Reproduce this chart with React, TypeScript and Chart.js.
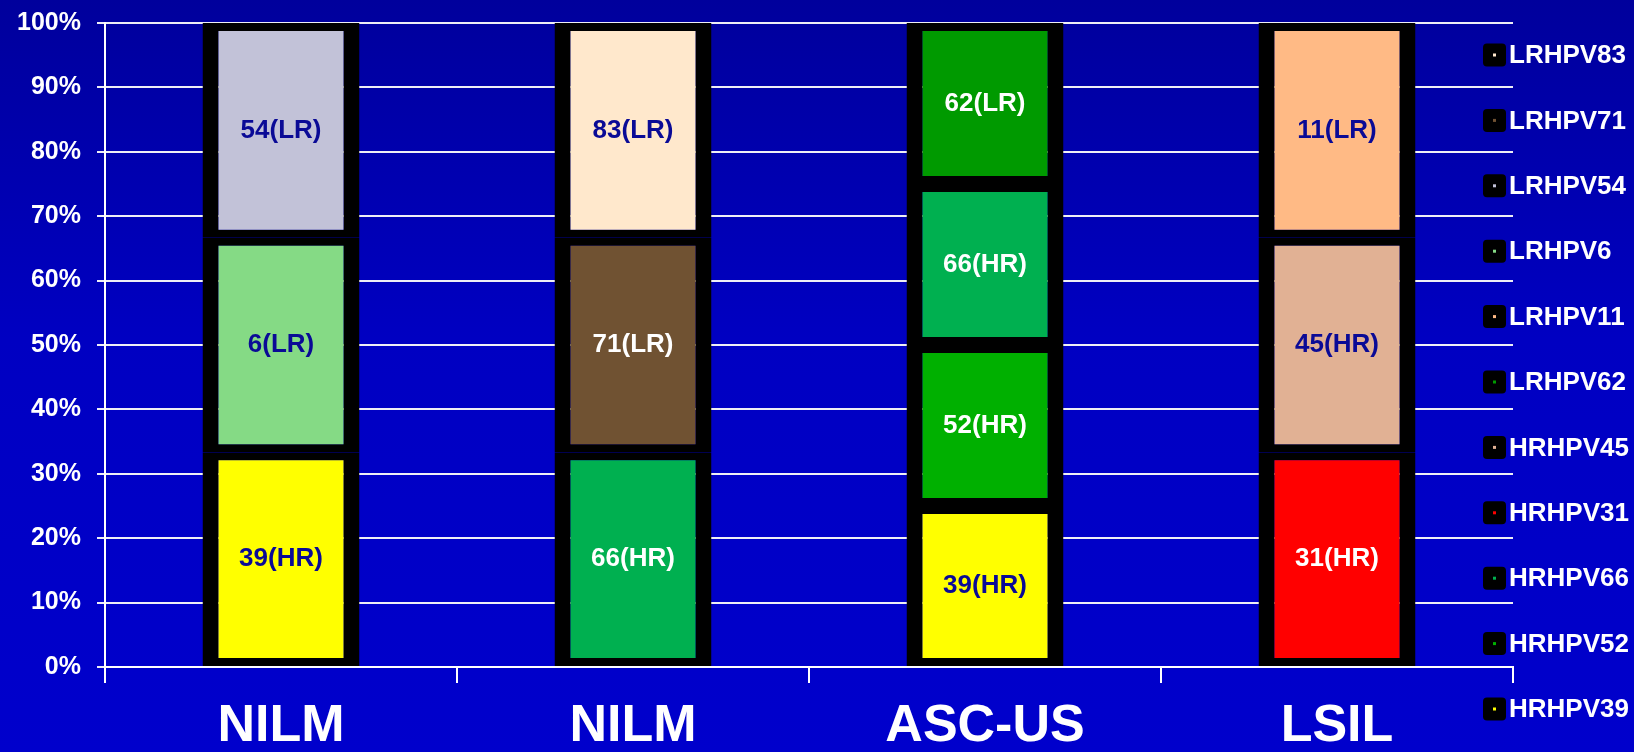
import React, { useEffect, useRef } from "react";
import { Chart, registerables } from "chart.js";

Chart.register(...registerables);

// Cytology groups along the x axis
const categories = ["NILM", "NILM", "ASC-US", "LSIL"];

// Genotypes found per sample (1 = detected), listed bottom of the stack first
const HRHPV39 = [1, 0, 1, 0];
const HRHPV52 = [0, 0, 1, 0];
const HRHPV66 = [0, 1, 1, 0];
const HRHPV31 = [0, 0, 0, 1];
const HRHPV45 = [0, 0, 0, 1];
const LRHPV62 = [0, 0, 1, 0];
const LRHPV11 = [0, 0, 0, 1];
const LRHPV6 = [1, 0, 0, 0];
const LRHPV54 = [1, 0, 0, 0];
const LRHPV71 = [0, 1, 0, 0];
const LRHPV83 = [0, 1, 0, 0];

const yTicks = [0, 10, 20, 30, 40, 50, 60, 70, 80, 90, 100];

const NAVY = "#0a0a96";
const WHITE = "#ffffff";

const series = [
  { name: "HRHPV39", counts: HRHPV39, fill: "#ffff00", text: NAVY },
  { name: "HRHPV52", counts: HRHPV52, fill: "#00b000", text: WHITE },
  { name: "HRHPV66", counts: HRHPV66, fill: "#00b050", text: WHITE },
  { name: "HRHPV31", counts: HRHPV31, fill: "#ff0000", text: WHITE },
  { name: "HRHPV45", counts: HRHPV45, fill: "#e1b194", text: NAVY },
  { name: "LRHPV62", counts: LRHPV62, fill: "#009a00", text: WHITE },
  { name: "LRHPV11", counts: LRHPV11, fill: "#ffba85", text: NAVY },
  { name: "LRHPV6", counts: LRHPV6, fill: "#85da85", text: NAVY },
  { name: "LRHPV54", counts: LRHPV54, fill: "#c2c2d8", text: NAVY },
  { name: "LRHPV71", counts: LRHPV71, fill: "#705232", text: WHITE },
  { name: "LRHPV83", counts: LRHPV83, fill: "#ffe8cc", text: NAVY },
];

const FONT = '"Liberation Sans", Arial, sans-serif';

// 100% stacked: each segment's share of its column total
const totals = categories.map((_, i) =>
  series.reduce((s, d) => s + d.counts[i], 0)
);

function segmentLabel(name: string): string {
  const risk = name.slice(0, 2);
  const type = name.slice(5);
  return `${type}(${risk})`;
}

const segmentLabels = {
  id: "segmentLabels",
  afterDatasetsDraw(chart: any) {
    const ctx = chart.ctx;
    ctx.save();
    ctx.font = `bold 26px ${FONT}`;
    ctx.textAlign = "center";
    ctx.textBaseline = "middle";
    chart.data.datasets.forEach((ds: any, di: number) => {
      const meta = chart.getDatasetMeta(di);
      meta.data.forEach((el: any, i: number) => {
        if (ds.data[i] == null) return;
        const { x, y, base } = el.getProps(["x", "y", "base"], true);
        ctx.fillStyle = ds.textColor;
        ctx.fillText(segmentLabel(ds.label), x, (y + base) / 2);
      });
    });
    ctx.restore();
  },
};

const sideLegend = {
  id: "sideLegend",
  afterDraw(chart: any) {
    const ctx = chart.ctx;
    const items = [...chart.data.datasets].reverse();
    const boxX = 1483;
    const box = 23;
    const firstY = 55;
    const step = 65.4;
    ctx.save();
    ctx.font = `bold 26px ${FONT}`;
    ctx.textAlign = "left";
    ctx.textBaseline = "middle";
    items.forEach((ds: any, k: number) => {
      const cy = firstY + k * step;
      ctx.fillStyle = "#000000";
      ctx.beginPath();
      ctx.roundRect(boxX, cy - box / 2, box, box, 4);
      ctx.fill();
      ctx.fillStyle = ds.backgroundColor;
      ctx.fillRect(boxX + box / 2 - 1.5, cy - 1.5, 3, 3);
      ctx.fillStyle = WHITE;
      ctx.fillText(ds.label, boxX + box + 3, cy + 1);
    });
    ctx.restore();
  },
};

export default function App() {
  const canvasRef = useRef<HTMLCanvasElement>(null);

  useEffect(() => {
    const canvas = canvasRef.current;
    if (!canvas) return;
    const chart = new Chart(canvas, {
      type: "bar",
      data: {
        labels: categories,
        datasets: series.map((s) => ({
          label: s.name,
          data: s.counts.map((c, i) => (c ? (c / totals[i]) * 100 : null)),
          backgroundColor: s.fill,
          borderColor: "#000000",
          borderWidth: { left: 16, right: 16, top: 8, bottom: 8 },
          borderSkipped: false,
          barPercentage: 0.446,
          categoryPercentage: 1,
          textColor: s.text,
        })) as any,
      },
      options: {
        responsive: false,
        animation: false,
        layout: { padding: { top: 23, right: 121, left: 0, bottom: 0 } },
        plugins: {
          legend: { display: false },
          tooltip: { enabled: false },
          title: { display: false },
        },
        scales: {
          x: {
            stacked: true,
            afterFit: (scale: any) => {
              scale.height = 85;
              scale.paddingLeft = 0;
              scale.paddingRight = 0;
            },
            grid: {
              display: true,
              offset: true,
              drawOnChartArea: false,
              drawTicks: true,
              tickLength: 16,
              color: "#ffffff",
              lineWidth: 2,
            },
            border: { display: true, color: "#ffffff", width: 2 },
            ticks: {
              color: "#ffffff",
              font: { family: FONT, size: 52, weight: "bold" },
              padding: 12,
              maxRotation: 0,
              autoSkip: false,
            },
          },
          y: {
            stacked: true,
            min: 0,
            max: 100,
            afterFit: (scale: any) => {
              scale.width = 105;
              scale.paddingTop = 0;
              scale.paddingBottom = 0;
            },
            afterBuildTicks: (scale: any) => {
              scale.ticks = yTicks.map((v) => ({ value: v }));
            },
            grid: {
              color: "#eeeef6",
              lineWidth: 2,
              tickLength: 8,
            },
            border: { display: true, color: "#ffffff", width: 2 },
            ticks: {
              color: "#ffffff",
              font: { family: FONT, size: 25, weight: "bold" },
              padding: 16,
              callback: (v: any) => `${v}%`,
            },
          },
        },
      },
      plugins: [segmentLabels, sideLegend],
    });
    return () => chart.destroy();
  }, []);

  return (
    <div
      style={{
        position: "fixed",
        left: 0,
        top: 0,
        width: 1634,
        height: 752,
        background:
          "linear-gradient(to bottom, #00009c 0%, #0000c2 45%, #0000cc 100%)",
      }}
    >
      <canvas
        ref={canvasRef}
        width={1634}
        height={752}
        style={{ display: "block", width: 1634, height: 752 }}
      />
    </div>
  );
}
